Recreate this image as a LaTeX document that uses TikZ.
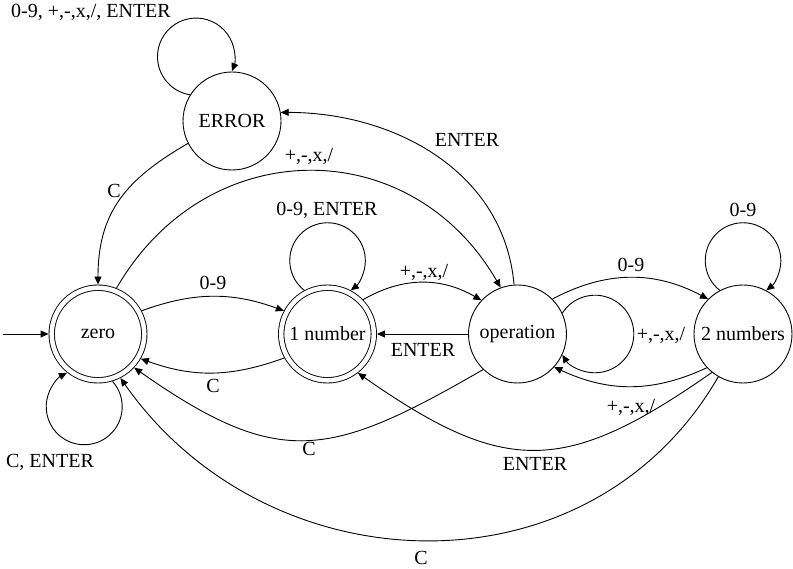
\documentclass[tikz,border=0pt]{standalone}
\usepackage{fontspec}
\setmainfont{Liberation Serif}
\usepackage{tikz}
\usetikzlibrary{automata,positioning,arrows.meta}
\tikzset{fsmstate/.style={circle, draw, line width=0.9pt, minimum size=98pt, inner sep=0pt}}
\tikzset{fsmaccept/.style={fsmstate, double, double distance=4.5pt, minimum size=92.6pt, outer sep=3.15pt}}
\tikzset{trans/.style={draw, line width=0.9pt, -{Triangle[length=8pt,width=7pt]}}}

\begin{document}
\begin{tikzpicture}[x=1pt,y=-1pt,font=\fontsize{20}{24}\selectfont]
\useasboundingbox (0,0) rectangle (793,569);

\node[fsmstate] (error) at (232,121) {ERROR};
\node[fsmaccept] (zero) at (98,334) {zero};
\node[fsmaccept] (one) at (327.5,334) {1 number};
\node[fsmstate] (op) at (517.5,334) {operation};
\node[fsmstate] (two) at (743,334) {2 numbers};
\coordinate (init) at (3,334);

\node (lerrloop) at (91,12) {0-9, +,-,x,/, ENTER};
\node (lerrzero) at (114,191) {C};
\node (lzeroop) at (309,156) {+,-,x,/};
\node (lopenter) at (467,140) {ENTER};
\node (loneloop) at (327,210) {0-9, ENTER};
\node (lzeroone) at (213,283) {0-9};
\node (lonezero) at (213,386) {C};
\node (lopzero) at (309,449) {C};
\node (lzeroloop) at (50,462) {C, ENTER};
\node (loneop) at (424,272) {+,-,x,/};
\node (lopone) at (423,350) {ENTER};
\node (loptwo) at (631,265) {0-9};
\node (lopself) at (661,335) {+,-,x,/};
\node (ltwoloop) at (743,210) {0-9};
\node (ltwoop) at (631,407) {+,-,x,/};
\node (ltwoone) at (535,464) {ENTER};
\node (ltwozero) at (421,558) {C};

\draw[trans] (init) -- (zero);

% self loops
\draw[trans] (error.148) arc[start angle=261, end angle=-22, radius=38.6pt];
\draw[trans] (zero.287) arc[start angle=42, end angle=-243, radius=38pt];
\draw[trans] (one.118) arc[start angle=232, end angle=-52, radius=37.8pt];
\draw[trans] (op.25) arc[start angle=147.4, end angle=-147.4, radius=38.8pt];
\draw[trans] (two.118) arc[start angle=232, end angle=-52, radius=37.8pt];

\draw[trans] (error.207) to[out=210,in=90,looseness=1.1] (zero.north);
\draw[trans] (op.94) to[out=95,in=0] (error.10);

\draw[trans] (zero.28) to[out=20,in=160] (one.152);
\draw[trans] (zero.68) to[out=60,in=120,looseness=1.2] (op.110);

\draw[trans] (one.209) to[out=200,in=-20] (zero.330);
\draw[trans] (one.44) to[out=30,in=150] (op.137);

\draw[trans] (op) -- (one);
\draw[trans] (op.226) to[out=210,in=-35,looseness=1.3] (zero.317);
\draw[trans] (op.45) to[out=28,in=152] (two.135);

\draw[trans] (two.223) to[out=205,in=-25] (op.318);
\draw[trans] (two.231) to[out=215,in=-35,looseness=1.3] (one.308);
\draw[trans] (two.240) to[out=240,in=-55,looseness=1.1] (zero.297);

\end{tikzpicture}
\end{document}
